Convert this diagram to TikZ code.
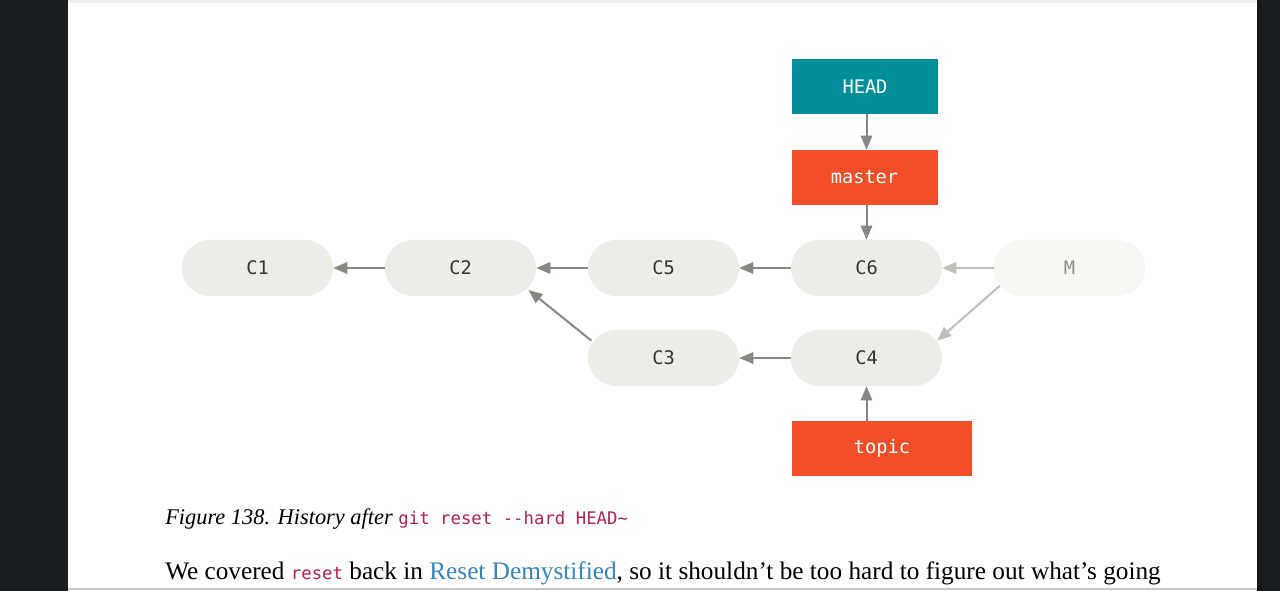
\documentclass[tikz,border=0pt]{standalone}
\usepackage{fontspec}
\setmainfont{Liberation Serif}
\setmonofont{DejaVu Sans Mono}
\usetikzlibrary{arrows.meta}
\definecolor{pagedark}{RGB}{27,30,33}
\definecolor{pageedge}{RGB}{22,25,28}
\definecolor{headteal}{RGB}{0,143,153}
\definecolor{branchred}{RGB}{242,78,40}
\definecolor{commitfill}{RGB}{238,236,231}
\definecolor{ghostfill}{RGB}{246,246,242}
\definecolor{arrowgray}{RGB}{138,134,128}
\definecolor{ghostgray}{RGB}{192,190,186}
\definecolor{codered}{RGB}{178,34,85}
\definecolor{linkblue}{RGB}{55,132,190}
\tikzset{
  commit/.style={rounded corners=21pt, fill=commitfill, text={rgb,255:red,51;green,51;blue,51},
    minimum width=113.25pt, minimum height=42pt, inner sep=0pt,
    font=\ttfamily\fontsize{14}{14}\selectfont},
  ghost/.style={commit, fill=ghostfill, text={rgb,255:red,140;green,140;blue,136}},
  branch/.style={fill=branchred, text=white, minimum width=109.5pt, minimum height=41.25pt,
    inner sep=0pt, font=\ttfamily\fontsize{14}{14}\selectfont},
  pointer/.style={branch, fill=headteal},
  parent/.style={draw=arrowgray, line width=1.5pt, -{Triangle[length=10.5pt,width=8.5pt]}},
  ghostparent/.style={parent, draw=ghostgray, fill=ghostgray},
}
\begin{document}
\begin{tikzpicture}[x=0.75pt,y=-0.75pt]
    \useasboundingbox (0,0) rectangle (1280,591);
    % Page
    \fill[pagedark] (0,0) rectangle (1280,591);
    \fill[pageedge] (1257,0) rectangle (1262,591);
    \fill[white] (68,0) rectangle (1257,591);
    \fill[black!6] (68,0) rectangle (1257,3);
    \draw[black!22,line width=1pt] (68,589) -- (1257,589);
    % Commits
    \node[commit] (C1) at (257.5,268) {C1};
    \node[commit] (C2) at (460.5,268) {C2};
    \node[commit] (C5) at (663.5,268) {C5};
    \node[commit] (C6) at (866.5,268) {C6};
    \node[ghost]  (M)  at (1069.5,268) {M};
    \node[commit] (C3) at (663.5,358) {C3};
    \node[commit] (C4) at (866.5,358) {C4};
    % Refs
    \node[pointer] (HEAD) at (865,86.5) {HEAD};
    \node[branch] (master) at (864.5,177.5) {master};
    \node[branch,minimum width=135pt] (topic) at (882,448.5) {topic};
    % Parents
    \draw[parent] (C2) -- (C1);
    \draw[parent] (C5) -- (C2);
    \draw[parent] (C6) -- (C5);
    \draw[parent] (C4) -- (C3);
    \draw[parent,shorten <=-3.5pt,shorten >=-7.5pt] (C3.165) -- (C2.south east);
    \draw[ghostparent] (M) -- (C6);
    \draw[ghostparent,shorten <=-6pt,shorten >=-5pt] (M.197) -- (C4.16.5);
    % Refs to commits
    \draw[parent] (HEAD.south -| C6) -- (master.north -| C6);
    \draw[parent] (master.south -| C6) -- (C6.north);
    \draw[parent] (topic.north -| C4) -- (C4.south);
    % Text
    \node[anchor=base west,inner sep=0pt,font=\fontsize{16.8}{16.8}\selectfont] (caption) at (165,524)
      {\textit{Figure 138. History after} {\color{codered}\ttfamily\fontsize{13}{13}\selectfont git reset --hard HEAD\textasciitilde}};
    \node[anchor=base west,inner sep=0pt,font=\fontsize{18.95}{18.95}\selectfont] (body) at (165,579)
      {We covered {\color{codered}\ttfamily\fontsize{13}{13}\selectfont reset} back in {\color{linkblue}Reset Demystified}, so it shouldn’t be too hard to figure out what’s going};
\end{tikzpicture}
\end{document}
